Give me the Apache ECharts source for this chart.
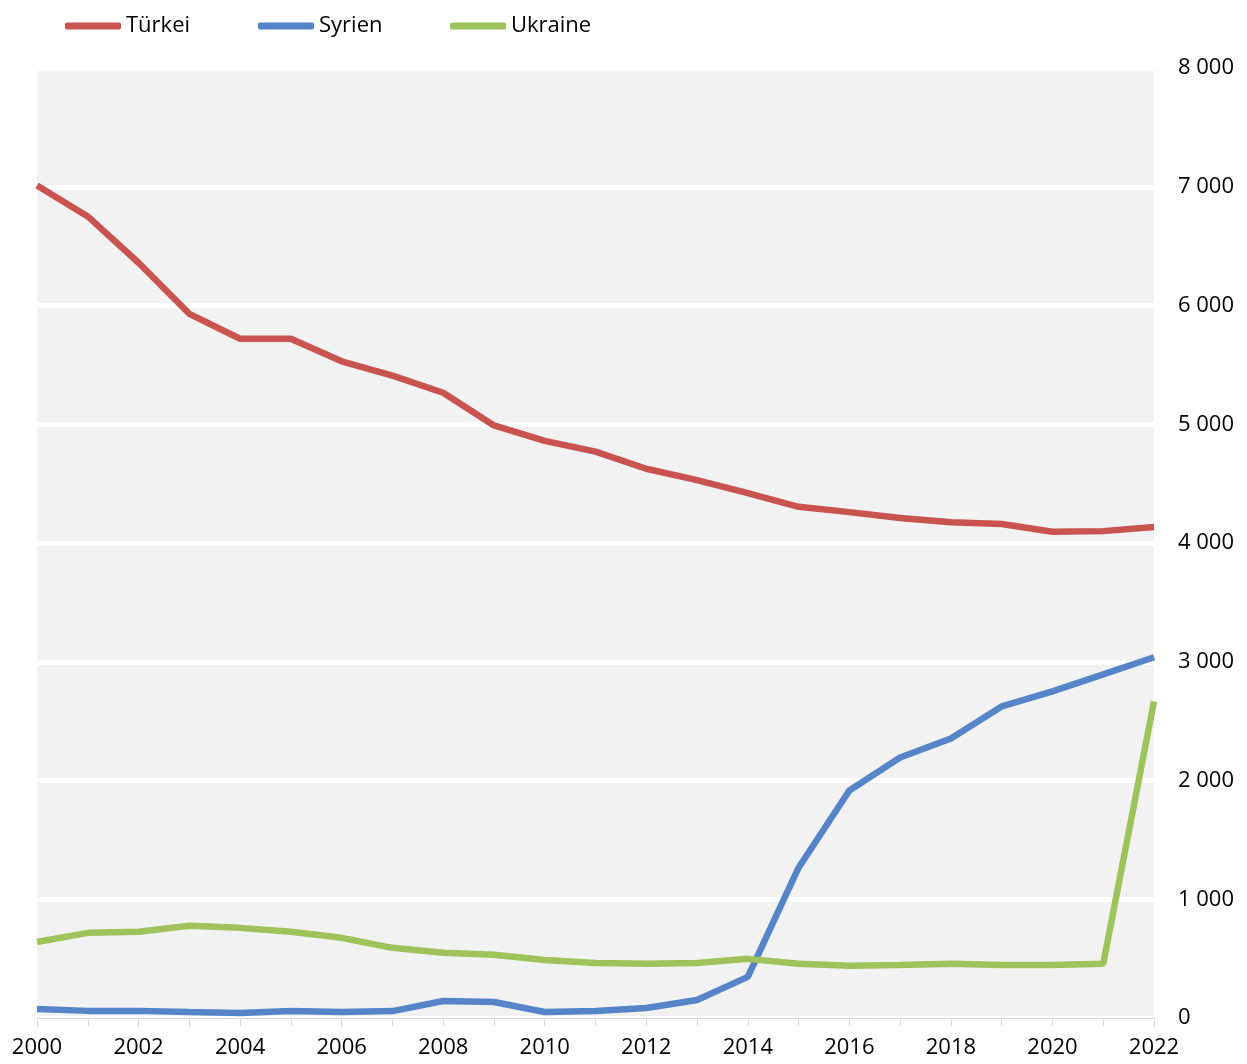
<!DOCTYPE html>
<html><head><meta charset="utf-8">
<script src="https://cdn.jsdelivr.net/npm/echarts@6/dist/echarts.min.js"></script>
<style>html,body{margin:0;padding:0;background:#fff}#c{width:1247px;height:1064px}</style>
</head><body><div id="c"></div>
<script>
const years = ['2000','2001','2002','2003','2004','2005','2006','2007','2008','2009','2010','2011','2012','2013','2014','2015','2016','2017','2018','2019','2020','2021','2022'];
const tuerkei = [7010,6750,6360,5930,5720,5720,5530,5410,5265,4990,4860,4770,4625,4530,4420,4305,4260,4210,4175,4160,4095,4100,4135];
const syrien = [75,60,60,50,42,58,50,58,143,135,50,58,84,152,346,1266,1916,2194,2354,2624,2751,2894,3038];
const ukraine = [640,717,726,776,759,726,675,591,549,532,489,464,456,464,498,456,439,447,456,447,447,456,2667];
const names = ['Türkei','Syrien','Ukraine'];
const colors = ['#c9534f','#5585c8','#9dc35a'];
const chart = echarts.init(document.getElementById('c'));
const font = '"Open Sans", "Noto Sans", sans-serif';
const legendLefts = [60, 253, 445];
chart.setOption({
  animation:false,
  color: colors,
  textStyle:{fontFamily:font},
  legend: names.map((n,i)=>({
    left:legendLefts[i], top:10, itemWidth:56, itemHeight:7, itemGap:0,
    icon:'roundRect',
    textStyle:{fontSize:22, color:'#000', fontFamily:font},
    data:[n]
  })),
  grid:{left:37,right:93,top:68,bottom:46,show:true,backgroundColor:'#f2f2f2',borderWidth:0,containLabel:false},
  xAxis:{
    type:'category', data:years, boundaryGap:false,
    axisLine:{lineStyle:{color:'#d9d9d9',width:1}},
    axisTick:{show:true,interval:0,length:8,lineStyle:{color:'#d9d9d9'}},
    axisLabel:{interval:1,color:'#000',fontSize:22,margin:19,fontFamily:font},
    splitLine:{show:false}
  },
  yAxis:{
    type:'value', position:'right', min:0, max:8000, interval:1000,
    axisLine:{show:false}, axisTick:{show:false},
    axisLabel:{color:'#000',fontSize:22,margin:24,fontFamily:font,
      formatter:v=>String(v).replace(/\B(?=(\d{3})+(?!\d))/g,' ')},
    splitLine:{show:true,lineStyle:{color:'#ffffff',width:5}}
  },
  series:[
    {name:names[0],type:'line',data:tuerkei,symbol:'none',lineStyle:{width:6.5,color:colors[0]},z:3},
    {name:names[1],type:'line',data:syrien,symbol:'none',lineStyle:{width:6.5,color:colors[1]},z:2},
    {name:names[2],type:'line',data:ukraine,symbol:'none',lineStyle:{width:6.5,color:colors[2]},z:2}
  ]
});
</script></body></html>
